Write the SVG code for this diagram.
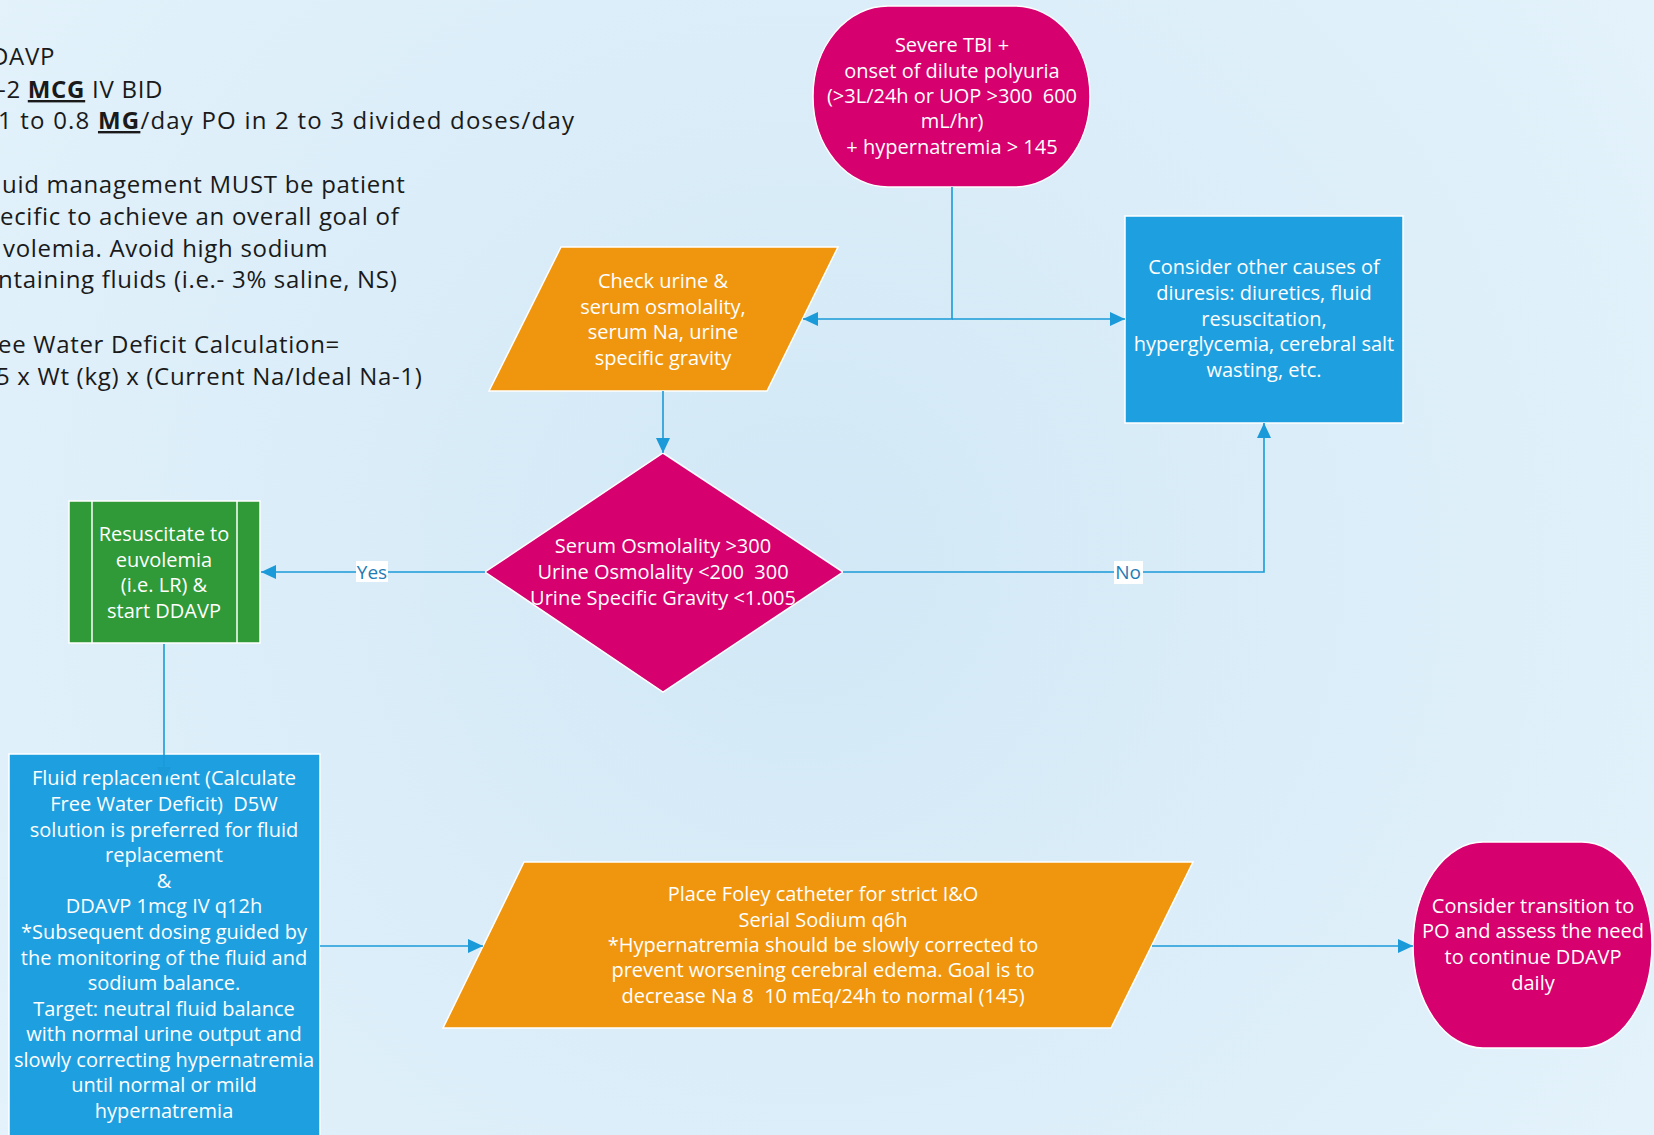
<svg xmlns="http://www.w3.org/2000/svg" width="1654" height="1135" viewBox="0 0 1654 1135">
<defs>
<radialGradient id="bg" cx="800" cy="560" r="1000" gradientUnits="userSpaceOnUse">
<stop offset="0" stop-color="#d2e8f6"/>
<stop offset="1" stop-color="#e3f2fb"/>
</radialGradient>
<marker id="ah" markerUnits="userSpaceOnUse" markerWidth="16" markerHeight="14" refX="15" refY="7" orient="auto">
<path d="M0,0 L15,7 L0,14 z" fill="#1a9ad8"/>
</marker>
<style>
.lt{font-family:"Open Sans","Noto Sans",sans-serif;font-size:24px;fill:#1a1a1a;letter-spacing:0.7px}
.b{font-weight:bold;text-decoration:underline}
.nt{font-family:"Open Sans","Noto Sans",sans-serif;font-size:20px;fill:#ffffff;text-anchor:middle}
.mag{fill:#d6006f;stroke:#ffffff;stroke-width:1.5}
.org{fill:#f0960e;stroke:#ffffff;stroke-width:1.5}
.blu{fill:#1ea0e0;stroke:#ffffff;stroke-width:1.5}
.grn{fill:#2f9a37;stroke:#ffffff;stroke-width:1.5}
.cn{fill:none;stroke:#1a9ad8;stroke-width:1.6}
.lb{font-family:"Open Sans","Noto Sans",sans-serif;font-size:19px;fill:#1f7db6;text-anchor:middle}
</style>
</defs>
<rect x="0" y="0" width="1654" height="1135" fill="url(#bg)"/>

<g id="notes">
<text class="lt" x="-9" y="65">DAVP</text>
<text class="lt" x="-2" y="98">-2 <tspan class="b">MCG</tspan> IV BID</text>
<text class="lt" x="-2" y="129" style="letter-spacing:1.2px">1 to 0.8 <tspan class="b">MG</tspan>/day PO in 2 to 3 divided doses/day</text>
<text class="lt" x="2" y="193">uid management MUST be patient</text>
<text class="lt" x="0" y="225">ecific to achieve an overall goal of</text>
<text class="lt" x="3" y="257">volemia. Avoid high sodium</text>
<text class="lt" x="-2" y="288">ntaining fluids (i.e.- 3% saline, NS)</text>
<text class="lt" x="-2" y="353">ee Water Deficit Calculation=</text>
<text class="lt" x="-4" y="385">5 x Wt (kg) x (Current Na/Ideal Na-1)</text>
</g>

<g id="n-start">
<rect class="mag" x="813" y="6" width="277" height="181" rx="75" ry="90"/>
<text class="nt" xml:space="preserve"><tspan x="952" y="52">Severe TBI +</tspan><tspan x="952" y="78">onset of dilute polyuria</tspan><tspan x="952" y="103">(&gt;3L/24h or UOP &gt;300  600</tspan><tspan x="952" y="128">mL/hr)</tspan><tspan x="952" y="154">+ hypernatremia &gt; 145</tspan></text>
</g>

<g id="n-check">
<polygon class="org" points="561,247 838,247 767,391 489,391"/>
<text class="nt"><tspan x="663" y="288">Check urine &amp;</tspan><tspan x="663" y="314">serum osmolality,</tspan><tspan x="663" y="339">serum Na, urine</tspan><tspan x="663" y="365">specific gravity</tspan></text>
</g>

<g id="n-other">
<rect class="blu" x="1125" y="216" width="278" height="207"/>
<text class="nt"><tspan x="1264" y="274">Consider other causes of</tspan><tspan x="1264" y="300">diuresis: diuretics, fluid</tspan><tspan x="1264" y="326">resuscitation,</tspan><tspan x="1264" y="351">hyperglycemia, cerebral salt</tspan><tspan x="1264" y="377">wasting, etc.</tspan></text>
</g>

<g id="n-decision">
<polygon class="mag" points="663,453 843,572 663,692 485,572"/>
<text class="nt" xml:space="preserve"><tspan x="663" y="553">Serum Osmolality &gt;300</tspan><tspan x="663" y="579">Urine Osmolality &lt;200  300</tspan><tspan x="663" y="605">Urine Specific Gravity &lt;1.005</tspan></text>
</g>

<g id="n-resus">
<rect class="grn" x="69" y="501" width="191" height="142"/>
<line x1="92" y1="501" x2="92" y2="643" stroke="#ffffff" stroke-width="1.5"/>
<line x1="237" y1="501" x2="237" y2="643" stroke="#ffffff" stroke-width="1.5"/>
<text class="nt"><tspan x="164" y="541">Resuscitate to</tspan><tspan x="164" y="567">euvolemia</tspan><tspan x="164" y="592">(i.e. LR) &amp;</tspan><tspan x="164" y="618">start DDAVP</tspan></text>
</g>

<g id="n-fluid">
<rect class="blu" x="9" y="754" width="311" height="395"/>
<text class="nt" xml:space="preserve"><tspan x="164" y="785">Fluid replacement (Calculate</tspan><tspan x="164" y="811">Free Water Deficit)  D5W</tspan><tspan x="164" y="837">solution is preferred for fluid</tspan><tspan x="164" y="862">replacement</tspan><tspan x="164" y="888">&amp;</tspan><tspan x="164" y="913">DDAVP 1mcg IV q12h</tspan><tspan x="164" y="939">*Subsequent dosing guided by</tspan><tspan x="164" y="965">the monitoring of the fluid and</tspan><tspan x="164" y="990">sodium balance.</tspan><tspan x="164" y="1016">Target: neutral fluid balance</tspan><tspan x="164" y="1041">with normal urine output and</tspan><tspan x="164" y="1067">slowly correcting hypernatremia</tspan><tspan x="164" y="1092">until normal or mild</tspan><tspan x="164" y="1118">hypernatremia</tspan></text>
</g>

<g id="n-foley">
<polygon class="org" points="524,862 1193,862 1111,1028 443,1028"/>
<text class="nt" xml:space="preserve"><tspan x="823" y="901">Place Foley catheter for strict I&amp;O</tspan><tspan x="823" y="927">Serial Sodium q6h</tspan><tspan x="823" y="952">*Hypernatremia should be slowly corrected to</tspan><tspan x="823" y="977">prevent worsening cerebral edema. Goal is to</tspan><tspan x="823" y="1003">decrease Na 8  10 mEq/24h to normal (145)</tspan></text>
</g>

<g id="n-end">
<rect class="mag" x="1413" y="842" width="239" height="206" rx="70" ry="103"/>
<text class="nt"><tspan x="1533" y="913">Consider transition to</tspan><tspan x="1533" y="938">PO and assess the need</tspan><tspan x="1533" y="964">to continue DDAVP</tspan><tspan x="1533" y="990">daily</tspan></text>
</g>

<g id="connectors">
<path class="cn" d="M952,187 V319 H803" marker-end="url(#ah)"/>
<path class="cn" d="M952,319 H1125" marker-end="url(#ah)"/>
<path class="cn" d="M663,391 V453" marker-end="url(#ah)"/>
<path class="cn" d="M485,572 H261" marker-end="url(#ah)"/>
<path class="cn" d="M843,572 H1264 V423" marker-end="url(#ah)"/>
<path class="cn" d="M164,644 V782" marker-end="url(#ah)"/>
<path class="cn" d="M320,946 H483" marker-end="url(#ah)"/>
<path class="cn" d="M1152,946 H1413" marker-end="url(#ah)"/>
<rect x="356" y="561" width="32" height="21" fill="#ffffff"/>
<text class="lb" x="372" y="579">Yes</text>
<rect x="1114" y="561" width="29" height="23" fill="#ffffff"/>
<text class="lb" x="1128" y="579">No</text>
</g>
</svg>
